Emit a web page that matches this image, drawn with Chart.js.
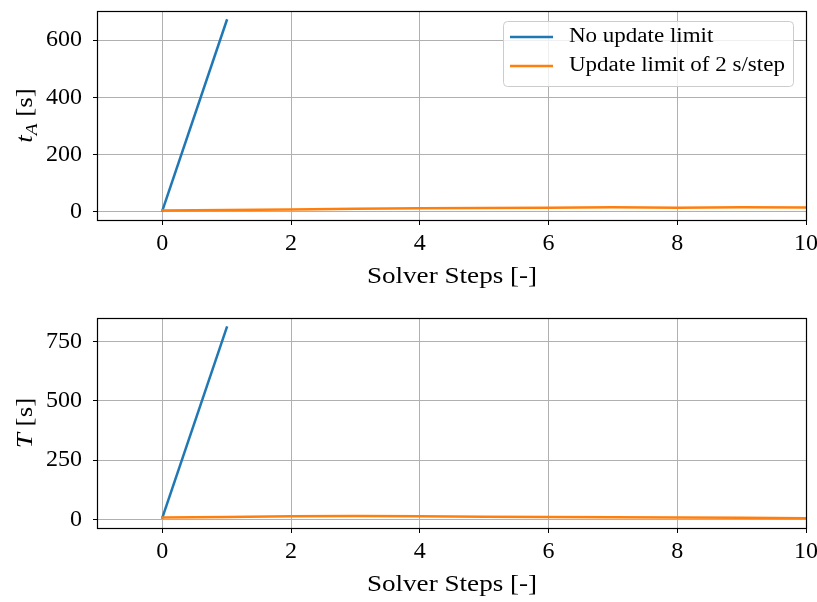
<!DOCTYPE html>
<html><head><meta charset="utf-8">
<script src="https://cdn.jsdelivr.net/npm/chart.js@4/dist/chart.umd.min.js"></script>
<style>
html,body{margin:0;padding:0;background:#fff;}
.box{position:absolute;left:0;width:817px;}
</style></head><body>
<div class="box" style="top:0;height:300px"><canvas id="c1"></canvas></div>
<div class="box" style="top:300px;height:302px"><canvas id="c2"></canvas></div>
<script>
// ---- data ----
const steps = [0, 1, 2, 3, 4, 5, 6, 7, 8, 9, 10];
const noLimitSteps = [0, 1];
const tA_noLimit = [3, 669];
const tA_limit = [3, 5, 7, 9, 11, 12, 13, 15, 13, 15, 14];
const T_noLimit = [8, 809];
const T_limit = [8, 10, 13, 15, 13, 11, 10, 9, 8, 7, 5];
const xTicks = [0, 2, 4, 6, 8, 10];
const tA_ticks = [0, 200, 400, 600];
const T_ticks = [0, 250, 500, 750];
const seriesLabels = ['No update limit', 'Update limit of 2 s/step'];
const xTitle = 'Solver Steps [-]';

const FONT = '"Liberation Serif", "DejaVu Serif", serif';
const BLUE = '#1f77b4', ORANGE = '#ff7f0e';
const TITLE_SX = 1.13, LEGEND_SX = 1.15;

function pts(xs, ys) { return ys.map((y, i) => ({x: xs[i], y: y})); }

// draw text horizontally stretched by sx, anchored at (x,y) with given alignment
function stretchedText(ctx, text, x, y, align, sx) {
  ctx.save();
  ctx.translate(x, y);
  ctx.scale(sx, 1);
  ctx.textAlign = align;
  ctx.fillText(text, 0, 0);
  ctx.restore();
}

function makeChart(id, cfg) {
  const framePlugin = {
    id: 'frame' + id,
    afterDraw(chart) {
      const ctx = chart.ctx, ca = chart.chartArea;
      ctx.save();
      ctx.strokeStyle = '#000';
      ctx.lineWidth = 1.2;
      ctx.strokeRect(Math.round(ca.left) - 0.5, Math.round(ca.top) + 0.5, Math.round(ca.right - ca.left) + 1, Math.round(ca.bottom - ca.top));
      // x title
      ctx.fillStyle = '#000';
      ctx.font = '24px ' + FONT;
      ctx.textBaseline = 'middle';
      stretchedText(ctx, xTitle, (ca.left + ca.right) / 2, cfg.xTitleY, 'center', TITLE_SX);
      // y title (rotated, composed)
      ctx.translate(24, (ca.top + ca.bottom) / 2);
      ctx.rotate(-Math.PI / 2);
      ctx.scale(TITLE_SX, 1);
      ctx.textAlign = 'left';
      ctx.textBaseline = 'alphabetic';
      const parts = cfg.yTitleParts;
      let total = 0;
      parts.forEach(p => { ctx.font = p.font; p.w = ctx.measureText(p.t).width; total += p.w; });
      let x = -total / 2;
      parts.forEach(p => { ctx.font = p.font; ctx.fillText(p.t, x, 8 + (p.dy || 0)); x += p.w; });
      ctx.restore();
      if (cfg.legend) {
        ctx.save();
        const bx = 503.5, by = 21.5, bw = 290, bh = 65, r = 4;
        ctx.beginPath();
        ctx.moveTo(bx + r, by);
        ctx.arcTo(bx + bw, by, bx + bw, by + bh, r);
        ctx.arcTo(bx + bw, by + bh, bx, by + bh, r);
        ctx.arcTo(bx, by + bh, bx, by, r);
        ctx.arcTo(bx, by, bx + bw, by, r);
        ctx.closePath();
        ctx.fillStyle = 'rgba(255,255,255,0.8)';
        ctx.fill();
        ctx.strokeStyle = '#cccccc';
        ctx.lineWidth = 1;
        ctx.stroke();
        const rows = [{c: BLUE, y: 37}, {c: ORANGE, y: 66}];
        ctx.font = '20px ' + FONT;
        ctx.textBaseline = 'middle';
        rows.forEach((row, i) => {
          ctx.strokeStyle = row.c;
          ctx.lineWidth = 2.5;
          ctx.beginPath();
          ctx.moveTo(510, row.y); ctx.lineTo(553, row.y); ctx.stroke();
          ctx.fillStyle = '#000';
          stretchedText(ctx, seriesLabels[i], 569, row.y, 'left', LEGEND_SX);
        });
        ctx.restore();
      }
    }
  };
  return new Chart(document.getElementById(id), {
    type: 'line',
    data: {
      datasets: [
        {label: seriesLabels[0], data: pts(noLimitSteps, cfg.blue), borderColor: BLUE, borderWidth: 2.5, pointRadius: 0, tension: 0, order: 1, borderCapStyle: 'square'},
        {label: seriesLabels[1], data: pts(steps, cfg.orange), borderColor: ORANGE, borderWidth: 2.5, pointRadius: 0, tension: 0, order: 0, borderCapStyle: 'square'}
      ]
    },
    options: {
      responsive: true,
      maintainAspectRatio: false,
      animation: false,
      events: [],
      layout: {padding: {left: 0, right: 11, top: cfg.padTop, bottom: 0}},
      plugins: {legend: {display: false}, tooltip: {enabled: false}},
      scales: {
        x: {
          type: 'linear', min: -1, max: 10,
          afterBuildTicks: s => { s.ticks = xTicks.map(v => ({value: v})); },
          afterFit: s => { s.height = cfg.xH; s.paddingLeft = 0; s.paddingRight = 0; },
          grid: {color: '#b0b0b0', lineWidth: 1, tickColor: '#000', tickLength: 5, drawTicks: true},
          border: {display: false},
          ticks: {font: {family: FONT, size: 24}, color: '#000', padding: 4, maxRotation: 0, autoSkip: false}
        },
        y: {
          type: 'linear', min: cfg.yMin, max: cfg.yMax,
          afterBuildTicks: s => { s.ticks = cfg.yTicks.map(v => ({value: v})); },
          afterFit: s => { s.width = 98; s.paddingTop = 0; s.paddingBottom = 0; },
          grid: {color: '#b0b0b0', lineWidth: 1, tickColor: '#000', tickLength: 5, drawTicks: true},
          border: {display: false},
          ticks: {font: {family: FONT, size: 24}, color: '#000', padding: 11, autoSkip: false}
        }
      }
    },
    plugins: [framePlugin]
  });
}

makeChart('c1', {
  blue: tA_noLimit, orange: tA_limit, yMin: -30, yMax: 702, yTicks: tA_ticks,
  padTop: 11, xH: 80, xTitleY: 277, legend: true,
  yTitleParts: [
    {t: 't', font: 'italic 24px ' + FONT},
    {t: 'A', font: 'italic 17px ' + FONT, dy: 5},
    {t: ' [s]', font: '24px ' + FONT}
  ]
});
makeChart('c2', {
  blue: T_noLimit, orange: T_limit, yMin: -36, yMax: 849, yTicks: T_ticks,
  padTop: 18, xH: 74, xTitleY: 285, legend: false,
  yTitleParts: [
    {t: 'T', font: 'italic 24px ' + FONT},
    {t: ' [s]', font: '24px ' + FONT}
  ]
});
</script>
</body></html>
